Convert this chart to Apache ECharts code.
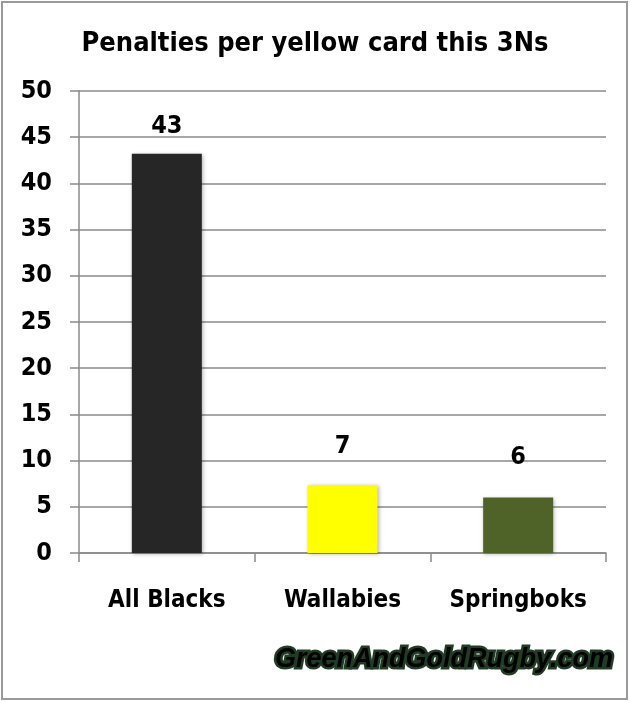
<!DOCTYPE html>
<html>
<head>
<meta charset="utf-8">
<script src="https://cdn.jsdelivr.net/npm/echarts@6/dist/echarts.min.js"></script>
<style>
html,body{margin:0;padding:0;background:#fff;}
#c{width:630px;height:702px;}
</style>
</head>
<body>
<div id="c"></div>
<script>
var titleText = 'Penalties per yellow card this 3Ns';
var categories = ['All Blacks', 'Wallabies', 'Springboks'];
var values = [43.2, 7.33, 6];
var barColors = ['#262626', '#ffff00', '#4f6228'];
var yTicks = [0, 5, 10, 15, 20, 25, 30, 35, 40, 45, 50];
var watermark = 'GreenAndGoldRugby.com';

var FONT = '"Liberation Sans Narrow", "DejaVu Sans Condensed", "Liberation Sans", sans-serif';
var WM_FONT = 'italic bold 27px "Liberation Sans", Arial, sans-serif';
var chart = echarts.init(document.getElementById('c'));
var labelDist = [15, 26, 28];
chart.setOption({
  backgroundColor: '#fff',
  animation: false,
  title: {
    text: titleText, left: 'center', top: 25,
    textStyle: {fontFamily: FONT, fontWeight: 'bold', fontSize: 27, color: '#000'}
  },
  grid: {left: 79, right: 24, top: 91, bottom: 149, containLabel: false},
  xAxis: {
    type: 'category', data: categories,
    axisLine: {lineStyle: {color: '#8a8a8a', width: 1.5}},
    axisTick: {show: true, length: 9, alignWithLabel: false, lineStyle: {color: '#8a8a8a', width: 1.5}},
    axisLabel: {interval: 0, hideOverlap: false, fontFamily: FONT, fontWeight: 'bold', fontSize: 24, color: '#000', margin: 36}
  },
  yAxis: {
    type: 'value', min: yTicks[0], max: yTicks[yTicks.length - 1], interval: yTicks[1] - yTicks[0],
    axisLine: {show: true, lineStyle: {color: '#8a8a8a', width: 1.5}},
    axisTick: {show: true, length: 9, lineStyle: {color: '#8a8a8a', width: 1.5}},
    splitLine: {lineStyle: {color: '#8a8a8a', width: 1.5}},
    axisLabel: {fontFamily: FONT, fontWeight: 'bold', fontSize: 25, color: '#000', margin: 27}
  },
  series: [{
    type: 'bar',
    barWidth: 70,
    data: values.map(function (v, i) {
      return {
        value: v,
        itemStyle: {color: barColors[i], shadowColor: 'rgba(0,0,0,0.3)', shadowBlur: 4, shadowOffsetX: 1, shadowOffsetY: 1},
        label: {distance: labelDist[i]}
      };
    }),
    label: {
      show: true, position: 'top',
      fontFamily: FONT, fontWeight: 'bold', fontSize: 25, color: '#000',
      formatter: function (p) { return Math.round(p.value); }
    }
  }],
  graphic: [
    {type: 'rect', shape: {x: 2, y: 2, width: 625, height: 697}, style: {fill: 'none', stroke: '#9a9a9a', lineWidth: 2}, silent: true},
    {
      type: 'text', x: 613, y: 660, z: 10,
      style: {text: watermark, font: WM_FONT, align: 'right', verticalAlign: 'middle',
        fill: '#1f3d23', stroke: '#1f3d23', lineWidth: 5, lineJoin: 'round'}
    },
    {
      type: 'text', x: 613, y: 660, z: 11,
      style: {
        text: watermark, font: WM_FONT, align: 'right', verticalAlign: 'middle',
        fill: new echarts.graphic.LinearGradient(0, 0, 0, 1, [{offset: 0, color: '#fffeea'}, {offset: 1, color: '#e6dc80'}])
      }
    }
  ]
});
</script>
</body>
</html>
